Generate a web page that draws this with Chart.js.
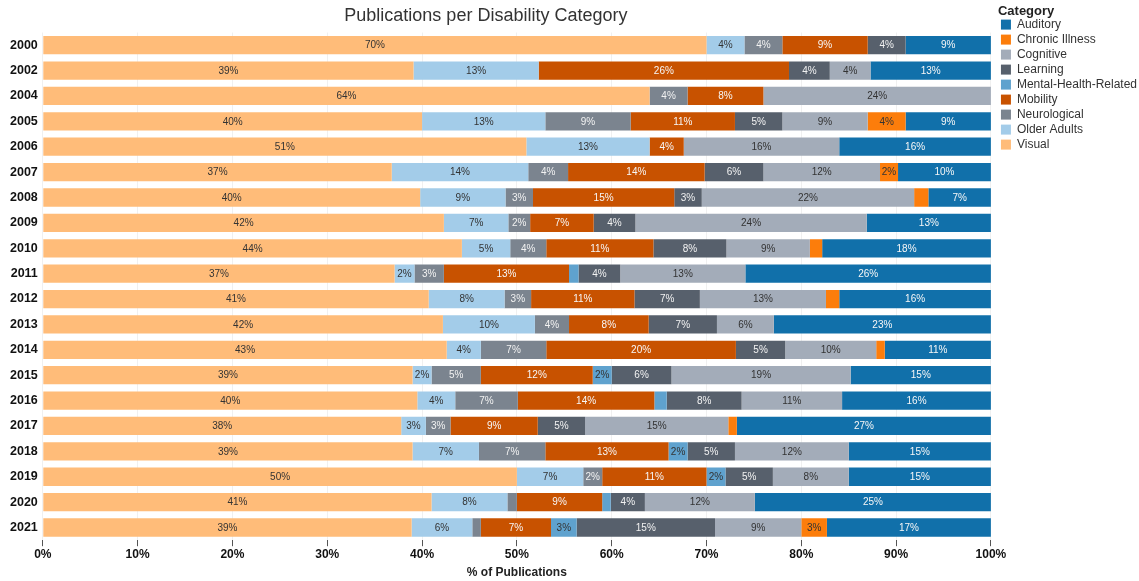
<!DOCTYPE html>
<html>
<head>
<meta charset="utf-8">
<script src="https://cdn.jsdelivr.net/npm/chart.js@4"></script>
<style>
    html, body {
        margin: 0;
        padding: 0;
        background: #ffffff;
    }
    #contenedor {
        width: 1139px;
        height: 581px;
    }
</style>
</head>
<body>
<div id="contenedor">
    <canvas id="barChart" width="1139" height="581"></canvas>
</div>
<script>

const ANOS = [
    "2000", "2002", "2004", "2005", "2006", "2007", "2008",
    "2009", "2010", "2011", "2012", "2013", "2014", "2015",
    "2016", "2017", "2018", "2019", "2020", "2021"
];

// % de publicaciones por categoría, en el orden de ANOS
const VISUAL = [70, 39.1, 64, 40, 51, 36.8, 39.8, 42.3, 44.2, 37.1, 40.7, 42.2, 42.6, 39, 39.5, 37.8, 39, 50, 41, 38.9];
const OLDER_ADULTS = [4, 13.2, 0, 13, 13, 14.4, 9.0, 6.8, 5.1, 2.1, 8.0, 9.7, 3.6, 2, 4.0, 2.6, 7, 7, 8, 6.4];
const NEUROLOGICAL = [4, 0, 4, 9, 0, 4.2, 2.9, 2.3, 3.8, 3.1, 2.8, 3.6, 6.9, 5.2, 6.6, 2.6, 7, 2, 1.0, 0.9];
const MOBILITY = [9, 26.4, 8, 11, 3.6, 14.4, 14.9, 6.7, 11.3, 13.2, 10.9, 8.4, 20.0, 11.8, 14.4, 9.2, 13, 11, 9, 7.4];
const MENTAL_HEALTH = [0, 0, 0, 0, 0, 0, 0, 0, 0, 1.0, 0, 0, 0, 2, 1.3, 0, 2, 2, 0.9, 2.7];
const LEARNING = [4, 4.3, 0, 5, 0, 6.2, 2.9, 4.4, 7.7, 4.4, 6.9, 7.2, 5.2, 6.3, 7.9, 5.0, 5, 5, 3.6, 14.6];
const COGNITIVE = [0, 4.3, 24, 9, 16.4, 12.3, 22.4, 24.4, 8.8, 13.2, 13.3, 6.0, 9.6, 18.9, 10.6, 15.1, 12, 8, 11.6, 9.1];
const CHRONIC_ILLNESS = [0, 0, 0, 4, 0, 1.9, 1.5, 0, 1.3, 0, 1.4, 0, 0.9, 0, 0, 0.9, 0, 0, 0, 2.7];
const AUDITORY = [9, 12.7, 0, 9, 16, 9.8, 6.6, 13.1, 17.8, 25.9, 16.0, 22.9, 11.2, 14.8, 15.7, 26.8, 15, 15, 24.9, 17.3];

const TICKS_X = [0, 10, 20, 30, 40, 50, 60, 70, 80, 90, 100];

// de izquierda a derecha en la barra
const SERIES = [
    { label: "Visual", data: VISUAL, color: "#ffbc79", texto: "#333333" },
    { label: "Older Adults", data: OLDER_ADULTS, color: "#a3cce9", texto: "#333333" },
    { label: "Neurological", data: NEUROLOGICAL, color: "#7b848f", texto: "#f2f2f2" },
    { label: "Mobility", data: MOBILITY, color: "#c85200", texto: "#f7f7f7" },
    { label: "Mental-Health-Related", data: MENTAL_HEALTH, color: "#5fa2ce", texto: "#333333" },
    { label: "Learning", data: LEARNING, color: "#57606c", texto: "#f2f2f2" },
    { label: "Cognitive", data: COGNITIVE, color: "#a3acb9", texto: "#333333" },
    { label: "Chronic Illness", data: CHRONIC_ILLNESS, color: "#fc7d0b", texto: "#333333" },
    { label: "Auditory", data: AUDITORY, color: "#1170aa", texto: "#f7f7f7" }
];

const FUENTE = "'Liberation Sans', Arial, Helvetica, sans-serif";

// etiquetas de porcentaje dentro de cada segmento
const etiquetasSegmentos = {
    id: "etiquetasSegmentos",
    afterDatasetsDraw(chart) {
        const ctx = chart.ctx;
        ctx.save();
        ctx.font = "10px " + FUENTE;
        ctx.textAlign = "center";
        ctx.textBaseline = "middle";
        chart.data.datasets.forEach((ds, i) => {
            const meta = chart.getDatasetMeta(i);
            meta.data.forEach((bar, j) => {
                const v = ds.data[j];
                if (v < 1.8) {
                    return;
                }
                ctx.fillStyle = SERIES[i].texto;
                ctx.fillText(
                    Math.round(v) + "%",
                    (bar.x + bar.base) / 2,
                    bar.y + 0.5
                );
            });
        });
        ctx.restore();
    }
};

// el título va un poco a la izquierda del centro del área
const moverTitulo = {
    id: "moverTitulo",
    afterLayout(chart) {
        if (chart.titleBlock) {
            chart.titleBlock.right -= 62;
        }
    }
};

function crearGrafico() {

    const ctx =
        document.getElementById(
            "barChart"
        );

    new Chart(ctx, {

        type: "bar",

        data: {
            labels: ANOS,
            datasets: SERIES.map(s => ({
                label: s.label,
                data: s.data,
                backgroundColor: s.color,
                borderWidth: 0,
                barPercentage: 0.72,
                categoryPercentage: 1
            }))
        },

        options: {
            indexAxis: "y",
            responsive: false,
            animation: false,
            layout: {
                padding: { top: 0, left: 5, right: -8, bottom: 0 }
            },
            plugins: {
                title: {
                    display: true,
                    text: "Publications per Disability Category",
                    fullSize: false,
                    color: "#333333",
                    font: { size: 18, weight: "normal", family: FUENTE },
                    padding: { top: 5.5, bottom: 5.4 }
                },
                legend: {
                    position: "right",
                    align: "start",
                    reverse: true,
                    title: {
                        display: true,
                        text: "Category",
                        position: "start",
                        color: "#222222",
                        font: { size: 13, weight: "bold", family: FUENTE },
                        padding: { top: 5, bottom: -5 }
                    },
                    labels: {
                        boxWidth: 10,
                        boxHeight: 10,
                        padding: 3,
                        color: "#333333",
                        font: { size: 12, family: FUENTE }
                    }
                },
                tooltip: { enabled: false }
            },
            scales: {
                x: {
                    stacked: true,
                    min: 0,
                    max: 100,
                    afterBuildTicks(scale) {
                        scale.ticks = TICKS_X.map(v => ({ value: v }));
                    },
                    border: { display: false },
                    grid: {
                        color: "#f0f0f0",
                        tickColor: "#555555",
                        tickLength: 6
                    },
                    ticks: {
                        callback: v => v + "%",
                        color: "#111111",
                        padding: 1,
                        maxRotation: 0,
                        font: { size: 12, weight: "bold", family: FUENTE }
                    },
                    title: {
                        display: true,
                        text: "% of Publications",
                        color: "#222222",
                        padding: { top: 3, bottom: 1 },
                        font: { size: 12, weight: "bold", family: FUENTE }
                    }
                },
                y: {
                    stacked: true,
                    border: { display: false },
                    grid: { display: false, drawTicks: false },
                    ticks: {
                        color: "#111111",
                        padding: 5,
                        font: { size: 12.5, weight: "bold", family: FUENTE }
                    }
                },
                // solo deja un hueco entre las barras y la leyenda
                hueco: {
                    axis: "y",
                    position: "right",
                    border: { display: false },
                    grid: { display: false, drawTicks: false },
                    ticks: { display: false },
                    afterFit(scale) {
                        scale.width = 7;
                    }
                }
            }
        },

        plugins: [etiquetasSegmentos, moverTitulo]

    });
}

crearGrafico();

</script>
</body>
</html>
